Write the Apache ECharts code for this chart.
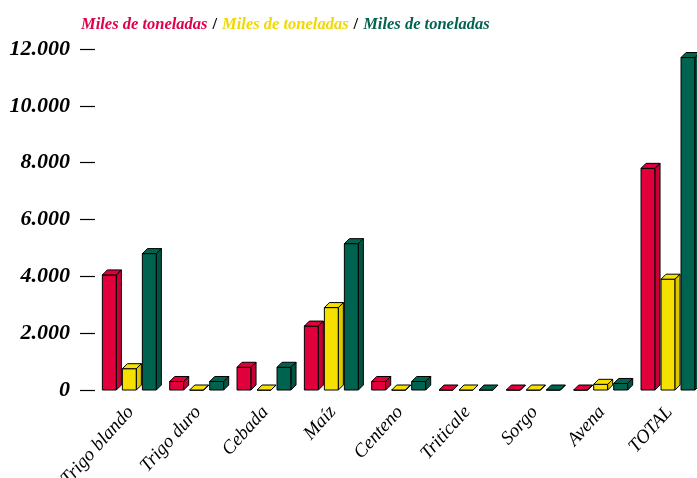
<!DOCTYPE html>
<html>
<head>
<meta charset="utf-8">
<script src="https://cdn.jsdelivr.net/npm/echarts@6/dist/echarts.min.js"></script>
<style>html,body{margin:0;padding:0;background:#fff;}#c{width:697px;height:478px;}</style>
</head>
<body>
<div id="c"></div>
<script>
const categories = ['Trigo blando','Trigo duro','Cebada','Maíz','Centeno','Triticale','Sorgo','Avena','TOTAL'];
const seriesRed = [4050, 300, 800, 2250, 300, 0, 0, 0, 7800];
const seriesYellow = [750, 0, 0, 2900, 0, 0, 0, 200, 3900];
const seriesGreen = [4800, 300, 800, 5150, 300, 0, 0, 230, 11700];
const legendText = 'Miles de toneladas';
const yTicks = [0, 2000, 4000, 6000, 8000, 10000, 12000];

const colors = [
  {front:'#E1003C', top:'#E1003C', side:'#C80035'},
  {front:'#F5E000', top:'#F5E000', side:'#DCC800'},
  {front:'#00634F', top:'#00634F', side:'#005442'}
];
const W = 14, D = 5, PITCH = 20;

function makeRender(si){
  return function(params, api){
    const cat = api.value(0), v = api.value(1);
    const base = api.coord([cat, 0]);
    const top = api.coord([cat, v]);
    const x0 = base[0] - 1.3 - W/2 + (si-1)*PITCH;
    const y0 = base[1], y1 = top[1];
    const c = colors[si];
    const st = {stroke:'#000', lineWidth:1};
    return {type:'group', children:[
      {type:'rect', shape:{x:x0, y:y1, width:W, height:Math.max(0,y0-y1)}, style:Object.assign({fill:c.front}, st)},
      {type:'polygon', shape:{points:[[x0,y1],[x0+D,y1-D],[x0+W+D,y1-D],[x0+W,y1]]}, style:Object.assign({fill:c.top}, st)},
      {type:'polygon', shape:{points:[[x0+W,y1],[x0+W+D,y1-D],[x0+W+D,y0-D],[x0+W,y0]]}, style:Object.assign({fill:c.side}, st)}
    ]};
  };
}

function toData(arr){ return arr.map((v,i)=>[i,v]); }

const chart = echarts.init(document.getElementById('c'));
chart.setOption({
  animation:false,
  backgroundColor:'#fff',
  title:{
    left:76, top:11,
    text:'{r|'+legendText+'} {s|/} {y|'+legendText+'} {s|/} {g|'+legendText+'}',
    textStyle:{
      rich:{
        r:{color:'#E1004A', fontFamily:'Liberation Serif', fontStyle:'italic', fontWeight:'bold', fontSize:16.5},
        y:{color:'#F2D800', fontFamily:'Liberation Serif', fontStyle:'italic', fontWeight:'bold', fontSize:16.5},
        g:{color:'#006450', fontFamily:'Liberation Serif', fontStyle:'italic', fontWeight:'bold', fontSize:16.5},
        s:{color:'#000', fontFamily:'Liberation Serif', fontStyle:'normal', fontWeight:'bold', fontSize:16.5}
      }
    }
  },
  grid:{left:97, top:49, width:606, height:341, containLabel:false, outerBoundsMode:'none'},
  xAxis:{
    type:'category', data:categories,
    axisLine:{show:false}, axisTick:{show:false},
    axisLabel:{rotate:48, margin:19, color:'#000', fontFamily:'Liberation Serif', fontStyle:'italic', fontSize:19, interval:0}
  },
  yAxis:{
    type:'value', min:0, max:12000, interval:2000, offset:2,
    axisLine:{show:false},
    axisTick:{show:true, length:15, lineStyle:{color:'#000', width:1.2}},
    splitLine:{show:false},
    axisLabel:{margin:25, color:'#000', fontFamily:'Liberation Serif', fontStyle:'italic', fontWeight:'bold', fontSize:22,
      formatter:function(v){ return yTicks.indexOf(v)>=0 ? (v>=1000 ? Math.floor(v/1000)+'.'+String(v%1000).padStart(3,'0') : String(v)) : ''; }}
  },
  series:[
    {type:'custom', renderItem:makeRender(0), data:toData(seriesRed), clip:false},
    {type:'custom', renderItem:makeRender(1), data:toData(seriesYellow), clip:false},
    {type:'custom', renderItem:makeRender(2), data:toData(seriesGreen), clip:false}
  ]
});
</script>
</body>
</html>
